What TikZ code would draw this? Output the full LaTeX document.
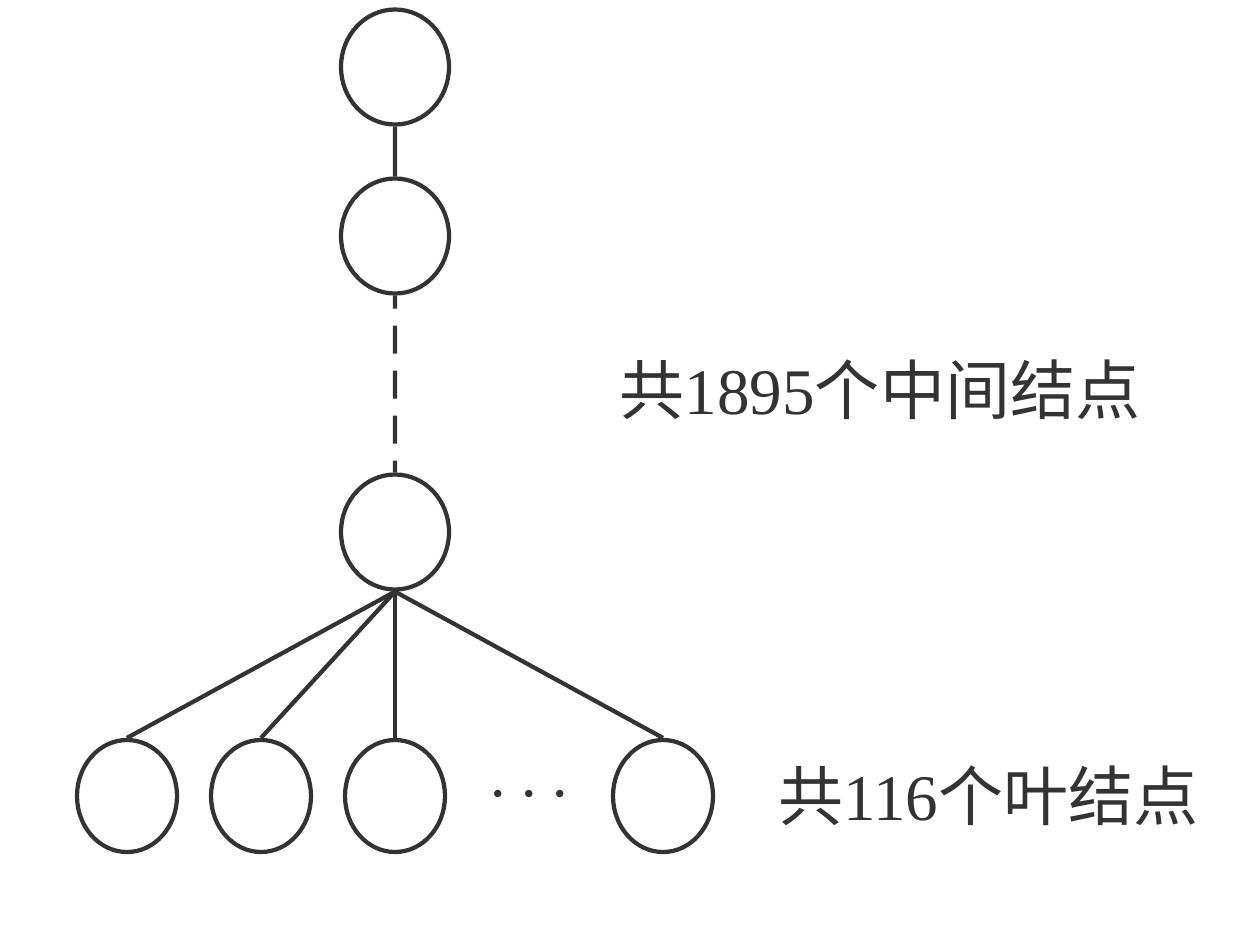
\documentclass[tikz,border=0pt]{standalone}
\usepackage{fontspec}
\setmainfont{Liberation Serif}
\newfontfamily\cjk{Noto Sans CJK SC}
\usepackage{tikz}
\usetikzlibrary{shapes.geometric}
\tikzstyle{inner node} = [ellipse,draw,line width=2.4pt,minimum width=2.16cm,minimum height=2.3cm,inner sep=0]
\tikzstyle{leaf node}  = [ellipse,draw,line width=2.4pt,minimum width=2cm,minimum height=2.24cm,inner sep=0]

\begin{document}
\begin{tikzpicture}[font=\fontsize{37}{37}\selectfont,
                    color=black!80,
                    line width=2.4pt,
                    parent anchor=south, child anchor=north
                    ]
\tikzstyle{level 1}=[level distance=3.38cm]
\tikzstyle{level 2}=[level distance=5.92cm]
\tikzstyle{level 3}=[level distance=5.28cm, sibling distance=2.68cm, solid]

    \useasboundingbox (0,0) rectangle (25.2,-18.56);

    \node(0)[inner node] at (7.9,-1.34){}
        child{node(1)[inner node]{}
            child[dash pattern=on 0.56cm off 0.34cm,dash phase=0.3cm]{node(2)[inner node,solid]{}
                child{node[leaf node]{}}
                child{node[leaf node]{}}
                child{node[leaf node]{}}
                child{node(dots)[draw=none]{\scalebox{1.6}{$\cdots$}} edge from parent[draw=none]}
                child{node(last)[leaf node]{}}
            }
        }
    ;

    \node(inner)[anchor=center] at (17.6,-7.8){{\cjk 共}1895{\cjk 个中间结点}};
    \node(leaves)[anchor=west] at ([xshift=1.1cm]last.east){{\cjk 共}116{\cjk 个叶结点}};

\end{tikzpicture}
\end{document}
